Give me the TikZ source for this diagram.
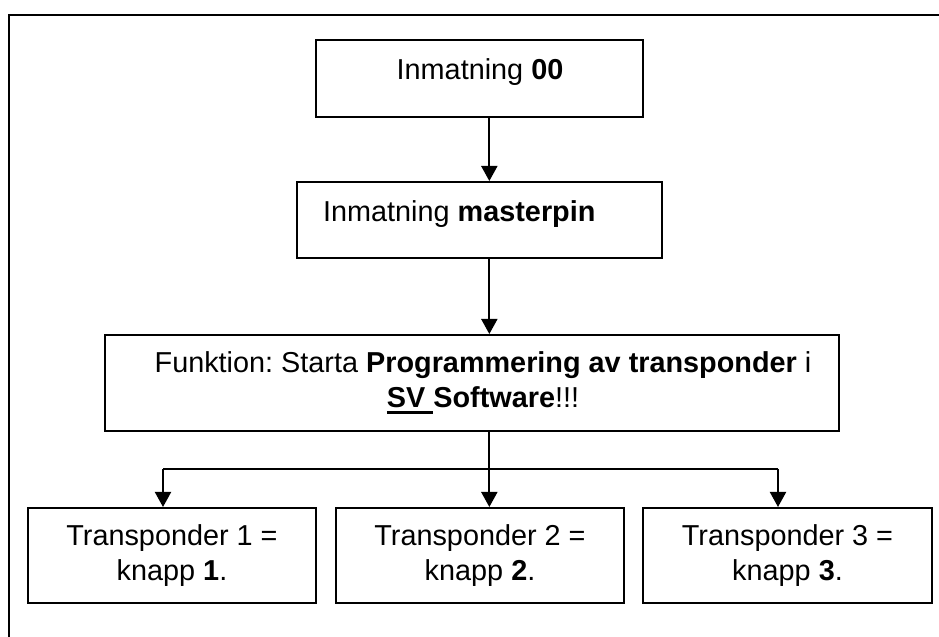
\documentclass[tikz,border=0pt]{standalone}
\usepackage{fontspec}
\setmainfont{Liberation Sans}
\usetikzlibrary{arrows.meta}
\frenchspacing
\newcommand{\ulbar}[1]{\setbox0\hbox{#1}\rlap{\rule[-0.2cm]{\wd0}{0.1cm}}\box0}

\begin{document}
\begin{tikzpicture}[
  ruta/.style={draw, rectangle, line width=0.06cm, inner sep=0pt},
  pil/.style={line width=0.06cm, -{Triangle[length=0.45cm,width=0.48cm]}},
  led/.style={line width=0.06cm},
  every node/.style={font=\fontsize{24.6}{30}\selectfont}]
                        \useasboundingbox (0,0) rectangle (28.170000,19.110000);
                        
                        % Drawing frame (top and left side only)
                        \draw [line width=0.07cm] (0.270000,0.000000) -- (0.270000,18.660000) -- (28.170000,18.660000);%
                        
                        % Drawing box 1
                        \node (box1) [ruta, minimum width=9.810000cm, minimum height=2.310000cm] at (14.385000,16.755000) {};%
                        \node (txt1) [anchor=base] at (14.400000,16.710000) {Inmatning \textbf{00}};%
                        
                        % Drawing box 2
                        \node (box2) [ruta, minimum width=10.950000cm, minimum height=2.280000cm] at (14.385000,12.510000) {};%
                        \node (txt2) [anchor=base west] at (9.570000,12.450000) {Inmatning \textbf{masterpin}};%
                        
                        % Drawing box 3
                        \node (box3) [ruta, minimum width=22.020000cm, minimum height=2.880000cm] at (14.160000,7.620000) {};%
                        \node (txt3) [align=center] at (14.490000,7.620000) {Funktion: Starta \textbf{Programmering av transponder} i\\\ulbar{\textbf{SV }}\textbf{Software}!!!};%
                        
                        % Drawing bottom boxes
                        \node (boxa) [ruta, align=center, minimum width=8.640000cm, minimum height=2.850000cm] at (5.160000,2.445000) {Transponder 1 =\\knapp \textbf{1}.};%
                        \node (boxb) [ruta, align=center, minimum width=8.640000cm, minimum height=2.850000cm] at (14.400000,2.445000) {Transponder 2 =\\knapp \textbf{2}.};%
                        \node (boxc) [ruta, align=center, minimum width=8.670000cm, minimum height=2.850000cm] at (23.625000,2.445000) {Transponder 3 =\\knapp \textbf{3}.};%
                        
                        % Marking branch points
                        \coordinate (mid) at (14.680000,5.040000);%
                        \coordinate (left) at (4.890000,5.040000);%
                        \coordinate (right) at (23.340000,5.040000);%
                        
                        % Drawing arrows
                        \draw [pil] (box1.south -| mid) -- (box2.north -| mid);%
                        \draw [pil] (box2.south -| mid) -- (box3.north -| mid);%
                        \draw [led] (box3.south -| mid) -- (mid);%
                        \draw [led] (left) -- (right);%
                        \draw [pil] (left) -- (boxa.north -| left);%
                        \draw [pil] (mid) -- (boxb.north -| mid);%
                        \draw [pil] (right) -- (boxc.north -| right);%
\end{tikzpicture}
\end{document}
